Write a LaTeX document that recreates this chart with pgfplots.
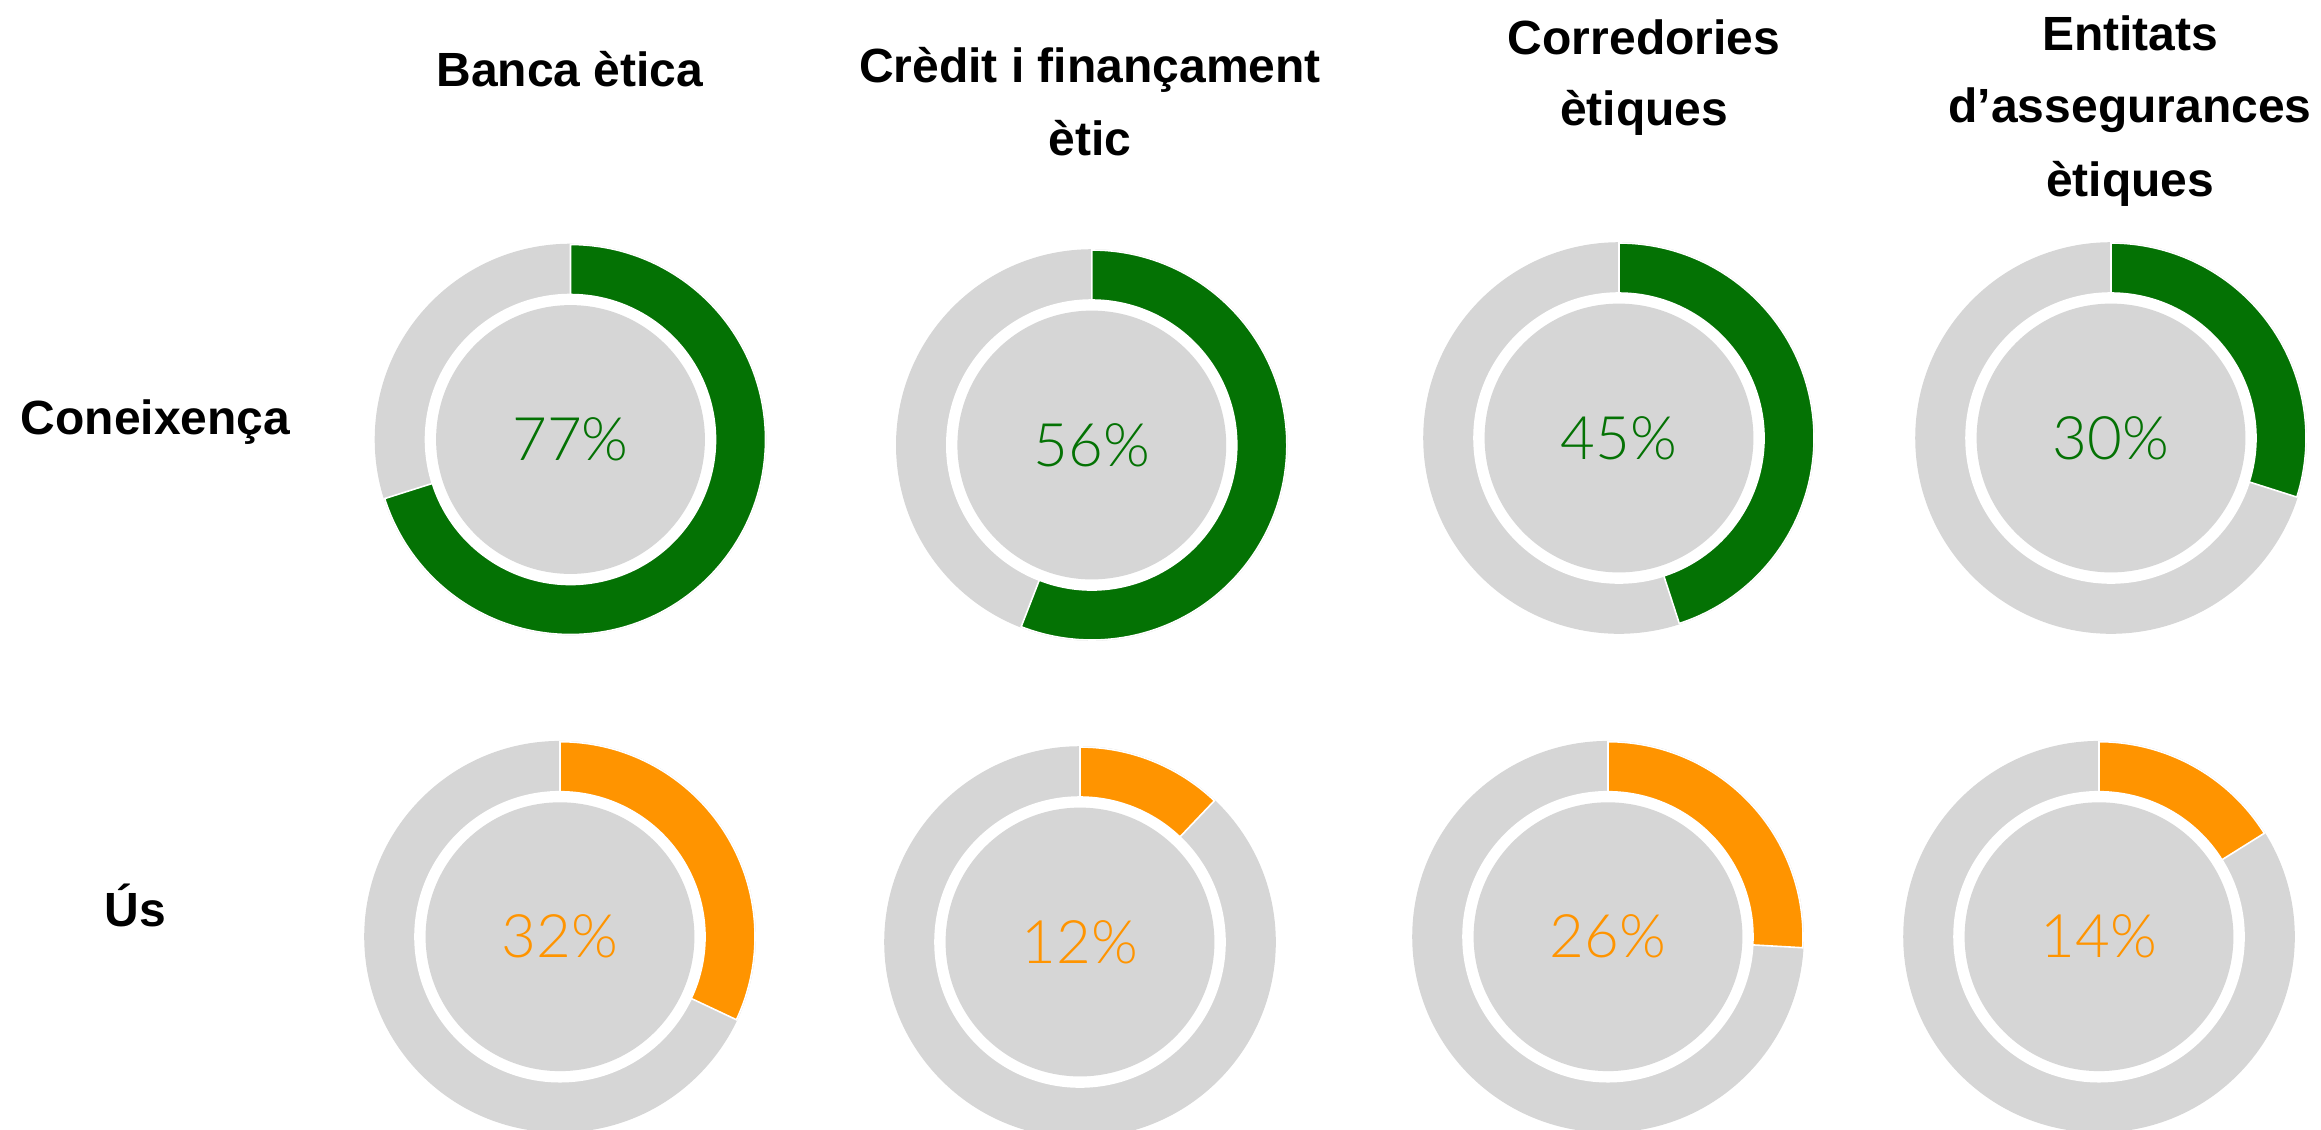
\documentclass[border=0pt]{standalone}
\usepackage{fontspec}
\setmainfont{Liberation Sans}
\IfFontExistsTF{Lato Light}{\newfontfamily\lightfont{Lato Light}}{\newfontfamily\lightfont{Liberation Sans}}
\usepackage{pgfplots}
\pgfplotsset{compat=1.18}
\usepackage{pgfplotstable}
\definecolor{cgreen}{HTML}{047204}
\definecolor{corange}{HTML}{FF9400}
\definecolor{lgray}{HTML}{D6D6D6}

% cx, cy: donut centre (px, y up); frac: drawn arc share; lab: printed value; c: 1 green, 2 orange
\pgfplotstableread{
cx     cy     frac   lab  c
570.5  689.5  0.701  77   1
1091.8 684.0  0.559  56   1
1619.0 691.0  0.450  45   1
2111.0 691.0  0.299  30   1
560.0  192.3  0.320  32   2
1080.0 187.0  0.121  12   2
1608.0 192.3  0.259  26   2
2099.0 192.3  0.161  14   2
}\donuts

\begin{document}
\begin{tikzpicture}
\begin{axis}[
  x=0.25pt, y=0.25pt,
  xmin=0, xmax=2321, ymin=0, ymax=1129,
  hide axis, disabledatascaling,
  clip marker paths=true,
]
\path (axis cs:0,0) rectangle (axis cs:2321,1129);
\addplot[scatter, only marks, mark=text, text mark={},
  visualization depends on={\thisrow{frac} \as \fr},
  visualization depends on={\thisrow{lab} \as \lab},
  visualization depends on={\thisrow{c} \as \ci},
  scatter/@pre marker code/.code={%
    \begin{scope}
    \pgfkeys{/pgf/fpu=false}%
    \pgfmathsetmacro\endang{90-360*\fr}%
    \pgfmathtruncatemacro\labi{round(\lab)}%
    \pgfmathtruncatemacro\cii{round(\ci)}%
    \ifnum\cii=1 \def\dcol{cgreen}\else\def\dcol{corange}\fi
    \fill[lgray] (0,0) circle[radius=48.75pt];
    \fill[white] (0,0) circle[radius=36.25pt];
    \fill[lgray] (0,0) circle[radius=33.4pt];
    \fill[\dcol, draw=white, line width=0.4pt]
      (90:48.75pt) arc[start angle=90, end angle=\endang, radius=48.75pt]
      -- (\endang:36.25pt) arc[start angle=\endang, end angle=90, radius=36.25pt]
      -- cycle;
    \node[text=\dcol, inner sep=0pt, font=\lightfont\fontsize{15}{17}\selectfont] at (0,0) {\labi\%};
    \end{scope}
  },
  scatter/@post marker code/.code={},
] table[x=cx, y=cy] {\donuts};

\begin{scope}[every node/.style={anchor=base, inner sep=0pt, font=\bfseries\fontsize{12}{14}\selectfont}]
\node at (axis cs:570,1042.5) {Banca ètica};
\node at (axis cs:1090,1047) {Crèdit i finançament};
\node at (axis cs:1090,974) {ètic};
\node at (axis cs:1644,1075) {Corredories};
\node at (axis cs:1644,1004) {ètiques};
\node at (axis cs:2130,1079) {Entitats};
\node at (axis cs:2130,1007) {d’assegurances};
\node at (axis cs:2130,933) {ètiques};
\node[anchor=base west] at (axis cs:20,695) {Coneixença};
\node[anchor=base west] at (axis cs:104,203) {Ús};
\end{scope}
\end{axis}
\end{tikzpicture}
\end{document}
